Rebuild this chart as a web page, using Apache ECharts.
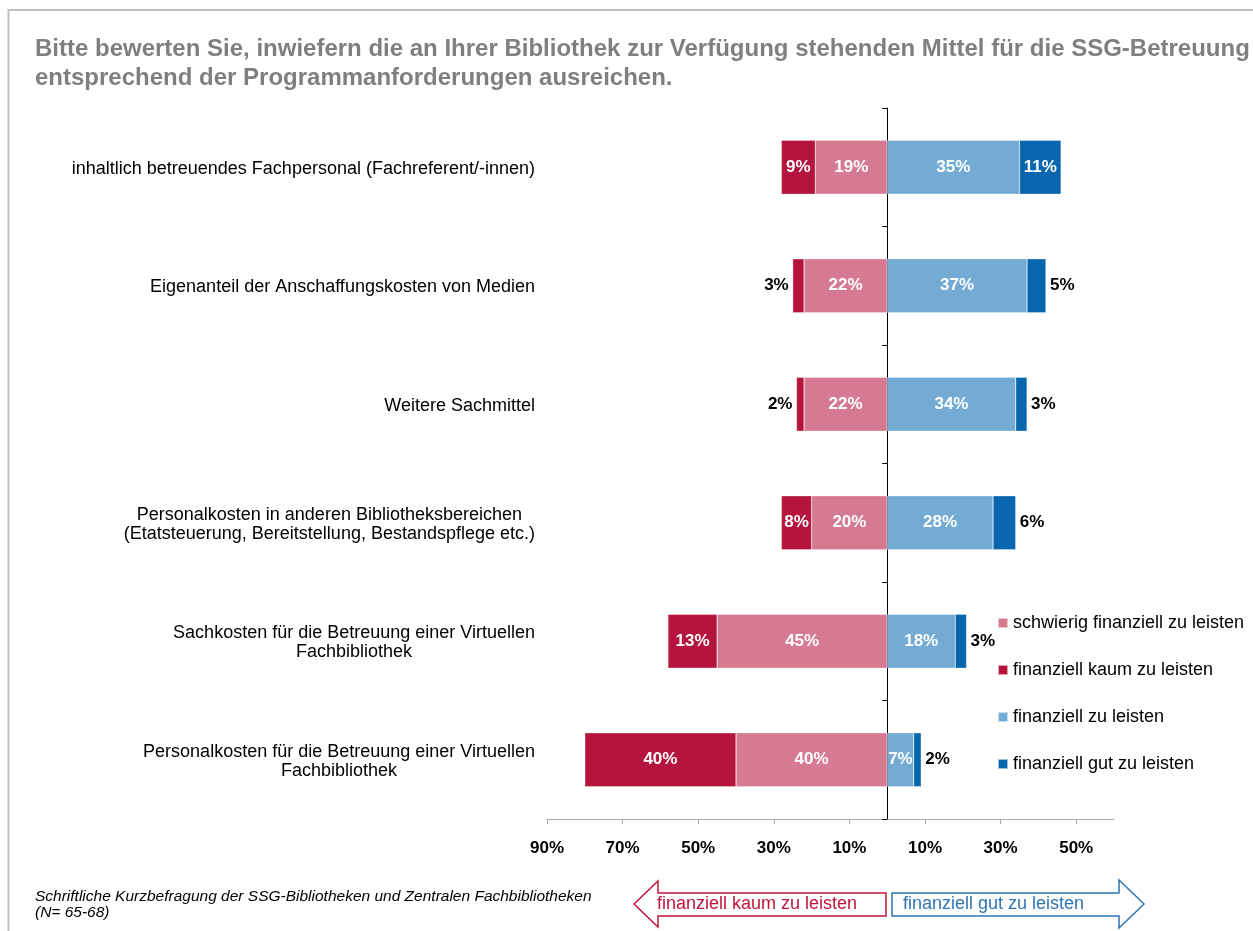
<!DOCTYPE html>
<html>
<head>
<meta charset="utf-8">
<script src="https://cdn.jsdelivr.net/npm/echarts@6/dist/echarts.min.js"></script>
<style>
html,body{margin:0;padding:0;background:#fff;}
#chart{width:1253px;height:931px;}
</style>
</head>
<body>
<div id="chart"></div>
<script>
// ---- data ----
var categories = [
  'inhaltlich betreuendes Fachpersonal (Fachreferent/-innen)',
  'Eigenanteil der Anschaffungskosten von Medien',
  'Weitere Sachmittel',
  'Personalkosten in anderen Bibliotheksbereichen\n(Etatsteuerung, Bereitstellung, Bestandspflege etc.)',
  'Sachkosten für die Betreuung einer Virtuellen\nFachbibliothek',
  'Personalkosten für die Betreuung einer Virtuellen\nFachbibliothek'
];
var seriesNames = ['schwierig finanziell zu leisten', 'finanziell kaum zu leisten', 'finanziell zu leisten', 'finanziell gut zu leisten'];
var schwierig = [19, 22, 22, 20, 45, 40];
var kaum = [9, 3, 2, 8, 13, 40];
var zuLeisten = [35, 37, 34, 28, 18, 7];
var gut = [11, 5, 3, 6, 3, 2];
var tickValues = [-90, -70, -50, -30, -10, 10, 30, 50];
var titleText = 'Bitte bewerten Sie, inwiefern die an Ihrer Bibliothek zur Verfügung stehenden Mittel für die SSG-Betreuung\nentsprechend der Programmanforderungen ausreichen.';
var footText = 'Schriftliche Kurzbefragung der SSG-Bibliotheken und Zentralen Fachbibliotheken\n(N= 65-68)';
var arrowLeftText = 'finanziell kaum zu leisten';
var arrowRightText = 'finanziell gut zu leisten';

// ---- styling ----
var FONT = 'Arial, "Liberation Sans", sans-serif';
var colors = { schwierig: '#D67A92', kaum: '#B5143C', zu: '#74ABD4', gut: '#0766AD' };
var INSIDE_MIN = 7;

function makeData(values, sign, outsidePos) {
  return values.map(function (v) {
    var inside = v >= INSIDE_MIN;
    return {
      value: sign * v,
      label: inside ? { position: 'inside', color: '#fff' }
                    : { position: outsidePos, color: '#000', distance: 4 }
    };
  });
}

var labelBase = {
  show: true,
  fontFamily: FONT,
  fontWeight: 'bold',
  fontSize: 17,
  formatter: function (p) { return Math.abs(p.value) + '%'; }
};

function bar(name, values, sign, color, outsidePos) {
  return {
    name: name,
    type: 'bar',
    stack: 'total',
    yAxisIndex: 0,
    barWidth: 54,
    itemStyle: { color: color, borderColor: 'rgba(255,255,255,0.6)', borderWidth: 0.5 },
    label: labelBase,
    data: makeData(values, sign, outsidePos)
  };
}

var chart = echarts.init(document.getElementById('chart'), null, { renderer: 'canvas' });

var option = {
  animation: false,
  backgroundColor: '#fff',
  textStyle: { fontFamily: FONT },
  title: {
    text: titleText,
    left: 35,
    top: 35,
    padding: 0,
    textStyle: { fontFamily: FONT, fontSize: 24, fontWeight: 'bold', color: '#7F7F7F', lineHeight: 29 }
  },
  legend: {
    orient: 'vertical',
    left: 992,
    top: 609,
    itemWidth: 10,
    itemHeight: 10,
    itemGap: 29,
    icon: 'rect',
    data: seriesNames,
    textStyle: { fontFamily: FONT, fontSize: 18, color: '#000' }
  },
  grid: { left: 547, right: 139, top: 108, bottom: 112, containLabel: false },
  xAxis: {
    type: 'value',
    min: -90,
    max: 60,
    splitLine: { show: false },
    axisLine: { show: true, lineStyle: { color: '#A6A6A6', width: 1 } },
    axisTick: { show: true, length: 5, customValues: tickValues, lineStyle: { color: '#A6A6A6' } },
    axisLabel: {
      customValues: tickValues,
      margin: 21,
      fontFamily: FONT, fontSize: 17, fontWeight: 'bold', color: '#000',
      formatter: function (v) { return Math.abs(v) + '%'; }
    }
  },
  yAxis: [
    {
      type: 'category',
      inverse: true,
      position: 'left',
      data: categories,
      axisLine: { show: false, onZero: false },
      axisTick: { show: false },
      axisLabel: {
        margin: 12,
        fontFamily: FONT, fontSize: 18, color: '#000',
        formatter: function (v) {
          return v.split('\n').map(function (s) { return '{c|' + s + '}'; }).join('\n');
        },
        rich: { c: { align: 'center', fontFamily: FONT, fontSize: 18, color: '#000', lineHeight: 19, padding: [3, 0, 0, 0] } }
      }
    },
    {
      type: 'category',
      inverse: true,
      position: 'right',
      data: categories,
      axisLine: { show: true, onZero: true, lineStyle: { color: '#000', width: 1 } },
      axisTick: { show: true, inside: true, length: 5, lineStyle: { color: '#000' } },
      axisLabel: { show: false }
    }
  ],
  series: [
    bar(seriesNames[0], schwierig, -1, colors.schwierig, 'left'),
    bar(seriesNames[1], kaum, -1, colors.kaum, 'left'),
    bar(seriesNames[2], zuLeisten, 1, colors.zu, 'right'),
    bar(seriesNames[3], gut, 1, colors.gut, 'right')
  ],
  graphic: [
    {
      type: 'polyline',
      shape: { points: [[8.5, 931], [8.5, 10], [1253, 10]] },
      style: { stroke: '#BFBFBF', lineWidth: 2, fill: null },
      silent: true
    },
    {
      type: 'text',
      left: 35,
      top: 889,
      style: { text: footText, font: 'italic 15.5px ' + FONT, fill: '#000', lineHeight: 16 }
    },
    {
      type: 'polygon',
      shape: { points: [[634, 904], [658, 881], [658, 893], [886, 893], [886, 916], [658, 916], [658, 927]] },
      style: { fill: '#fff', stroke: '#C0143C', lineWidth: 1.5 }
    },
    {
      type: 'text',
      x: 657, y: 904,
      style: { text: arrowLeftText, font: '18px ' + FONT, fill: '#C0143C', verticalAlign: 'middle', align: 'left' }
    },
    {
      type: 'polygon',
      shape: { points: [[892, 893], [1119, 893], [1119, 880], [1144, 904], [1119, 928], [1119, 916], [892, 916]] },
      style: { fill: '#fff', stroke: '#2E75B6', lineWidth: 1.5 }
    },
    {
      type: 'text',
      x: 903, y: 904,
      style: { text: arrowRightText, font: '18px ' + FONT, fill: '#2E75B6', verticalAlign: 'middle', align: 'left' }
    }
  ]
};
chart.setOption(option);
</script>
</body>
</html>
